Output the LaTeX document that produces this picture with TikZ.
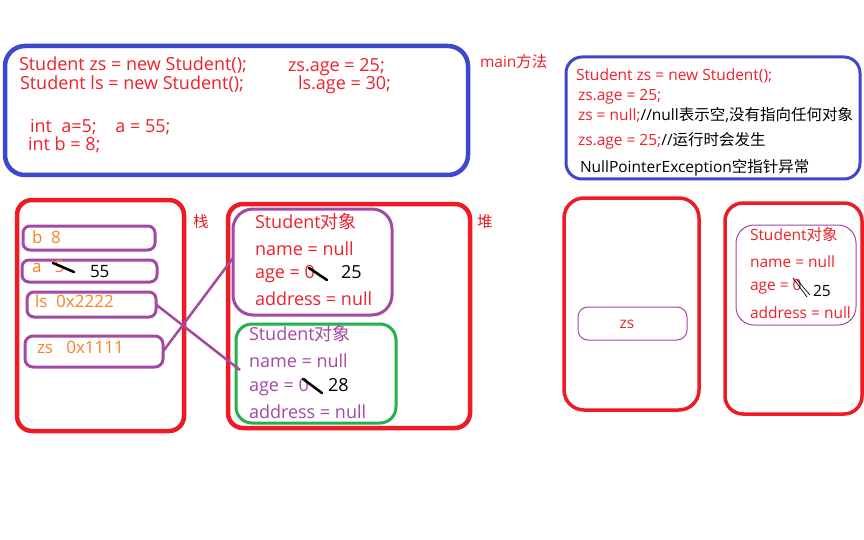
\documentclass[tikz,border=0pt]{standalone}
\usepackage{fontspec}
\setmainfont{Open Sans}
\newfontfamily\cjk{Noto Sans CJK SC}
\newcommand{\zh}[1]{{\cjk #1}}
\definecolor{pred}{HTML}{ED1C24}
\definecolor{ppurple}{HTML}{A349A4}
\definecolor{pgreen}{HTML}{22B14C}
\definecolor{pblue}{HTML}{3F48CC}
\definecolor{porange}{HTML}{FF7F27}
\definecolor{tred}{HTML}{F0202A}
\begin{document}
\begin{tikzpicture}[x=1pt,y=-1pt,
  frame/.style={draw, inner sep=0pt, outer sep=0pt},
  txt/.style={anchor=base west, inner sep=0pt, outer sep=0pt},
  big/.style={font=\fontsize{18}{21}\selectfont},
  mid/.style={font=\fontsize{18}{21}\selectfont},
  stk/.style={font=\fontsize{17}{20}\selectfont},
  small/.style={font=\fontsize{15.5}{18}\selectfont},
  strike/.style={line width=2.5pt, black, line cap=round},
  scribble/.style={line width=0.7pt, black},
  link/.style={ppurple, line width=2.5pt}]
\useasboundingbox (0,0) rectangle (864,540);
\fill[white] (0,0) rectangle (864,540);

% top-left code box
\node[frame, pblue, line width=4.5pt, rounded corners=20pt, minimum width=463pt, minimum height=129pt] (code) at (236.5,110.5) {};
\node[txt, big, tred] (c1) at (19,71) {Student zs = new Student();};
\node[txt, big, tred] (c2) at (20,90) {Student ls = new Student();};
\node[txt, big, tred] (c3) at (288,72) {zs.age = 25;};
\node[txt, big, tred] (c4) at (298,90) {ls.age = 30;};
\node[txt, big, tred] (c5) at (30,133) {int\ \ a=5;\ \ \ \ a = 55;};
\node[txt, big, tred] (c6) at (28,151) {int b = 8;};
\node[txt, small, tred] (mainlbl) at (480,68) {main\zh{方法}};

% top-right code box
\node[frame, pblue, line width=3pt, rounded corners=16pt, minimum width=294pt, minimum height=122pt] (code2) at (713,118) {};
\node[txt, small, tred] (d1) at (576,81) {Student zs = new Student();};
\node[txt, small, tred] (d2) at (578,101) {zs.age = 25;};
\node[txt, small] (d3) at (578,121) {\textcolor{tred}{zs = null;}//null\zh{表示空},\zh{没有指向任何对象}};
\node[txt, small] (d4) at (578,146) {\textcolor{tred}{zs.age = 25;}//\zh{运行时会发生}};
\node[txt, small] (d5) at (580,173) {NullPointerException\zh{空指针异常}};

% stack
\node[frame, pred, line width=4.5pt, rounded corners=15pt, minimum width=167pt, minimum height=231pt] (stack) at (100.5,315.5) {};
\node[txt, small, pred] (stacklbl) at (193,227) {\zh{栈}};
\node[frame, ppurple, line width=3pt, rounded corners=7pt, minimum width=132pt, minimum height=24pt] (bbox) at (89,238) {};
\node[frame, ppurple, line width=3pt, rounded corners=7pt, minimum width=135pt, minimum height=22pt] (abox) at (89.5,271) {};
\node[frame, ppurple, line width=3pt, rounded corners=7pt, minimum width=129pt, minimum height=25pt] (lsbox) at (91.5,304.5) {};
\node[frame, ppurple, line width=3pt, rounded corners=8pt, minimum width=138pt, minimum height=31pt] (zsbox) at (94,351.5) {};
\node[txt, stk, porange] (bt) at (32,243) {b\ \ 8};
\node[txt, stk, porange] (at) at (32,272) {a\ \ \ 5};
\node[txt, stk, black] (a55) at (90,277) {55};
\node[txt, stk, porange] (lst) at (35,307) {ls\ \ 0x2222};
\node[txt, stk, porange] (zst) at (37,353) {zs\ \ \ 0x1111};
\coordinate (sa1) at (53,263);
\coordinate (sa2) at (74,272);
\draw[strike] (sa1) -- (sa2);

% heap
\node[frame, pred, line width=4.5pt, rounded corners=15pt, minimum width=242pt, minimum height=224pt] (heap) at (349,316) {};
\node[txt, small, pred] (heaplbl) at (477,227) {\zh{堆}};
\node[frame, ppurple, line width=3pt, rounded corners=20pt, minimum width=159pt, minimum height=106pt] (obj1) at (312.5,262) {};
\node[frame, pgreen, line width=3pt, rounded corners=16pt, minimum width=160pt, minimum height=99pt] (obj2) at (316,373.5) {};
\node[txt, mid, tred] (o1a) at (255,228) {Student\zh{对象}};
\node[txt, mid, tred] (o1b) at (255,255) {name = null};
\node[txt, mid, tred] (o1c) at (255,278) {age = 0};
\node[txt, mid, black] (o1v) at (341,278) {25};
\node[txt, mid, tred] (o1d) at (255,305) {address = null};
\coordinate (s11) at (309,268);
\coordinate (s12) at (327,280);
\draw[strike] (s11) -- (s12);
\node[txt, mid, ppurple] (o2a) at (249,340) {Student\zh{对象}};
\node[txt, mid, ppurple] (o2b) at (249,367) {name = null};
\node[txt, mid, ppurple] (o2c) at (249,391) {age = 0};
\node[txt, mid, black] (o2v) at (328,391) {28};
\node[txt, mid, ppurple] (o2d) at (249,418) {address = null};
\coordinate (s21) at (303,379);
\coordinate (s22) at (322,393);
\draw[strike] (s21) -- (s22);

% references
\coordinate (zsend) at (233,258);
\coordinate (lsend) at (240,370);
\draw[link] (zsbox.east) -- (zsend);
\draw[link] (lsbox.east) -- (lsend);

% right stack
\node[frame, pred, line width=3.5pt, rounded corners=20pt, minimum width=135pt, minimum height=212pt] (stack2) at (631.5,304) {};
\node[frame, ppurple, line width=1pt, rounded corners=10pt, minimum width=109pt, minimum height=33pt] (zs2) at (632.5,323.5) {};
\node[anchor=base, inner sep=0pt, small, tred] (zs2t) at (627,328) {zs};

% right heap
\node[frame, pred, line width=3.5pt, rounded corners=18pt, minimum width=137pt, minimum height=211pt] (heap2) at (793.5,308.5) {};
\node[frame, ppurple, line width=1pt, rounded corners=18pt, minimum width=120pt, minimum height=100pt] (obj3) at (796,275) {};
\node[txt, small, tred] (o3a) at (750,240) {Student\zh{对象}};
\node[txt, small, tred] (o3b) at (750,267) {name = null};
\node[txt, small, tred] (o3c) at (750,290) {age = 0};
\node[txt, small, black] (o3v) at (813,296) {25};
\node[txt, small, tred] (o3d) at (750,318) {address = null};
\coordinate (s31) at (793,278);
\coordinate (s32) at (807,297);
\coordinate (s33) at (797,280);
\coordinate (s34) at (810,295);
\draw[scribble] (s31) -- (s32);
\draw[scribble] (s33) -- (s34);
\end{tikzpicture}
\end{document}
